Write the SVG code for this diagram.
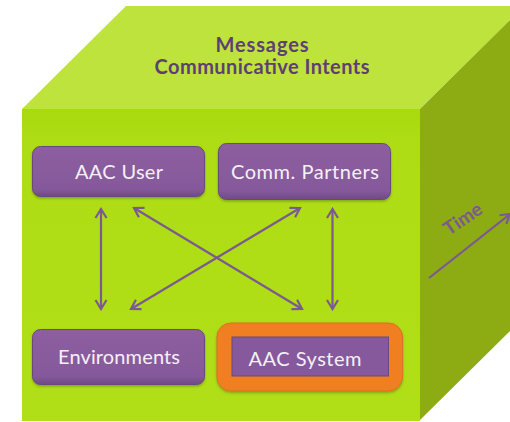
<svg xmlns="http://www.w3.org/2000/svg" width="510" height="422" viewBox="0 0 510 422">
<defs>
<linearGradient id="box" x1="0" y1="0" x2="0" y2="1"><stop offset="0" stop-color="#8d5e9f"/><stop offset="0.85" stop-color="#85599b"/><stop offset="1" stop-color="#6f4a85"/></linearGradient>
<linearGradient id="front" x1="0" y1="0" x2="0" y2="1"><stop offset="0" stop-color="#a8da0f"/><stop offset="0.12" stop-color="#aedd15"/><stop offset="1" stop-color="#b0de17"/></linearGradient>
<marker id="a" viewBox="0 0 14 14" refX="12" refY="7" markerWidth="14" markerHeight="14" markerUnits="userSpaceOnUse" orient="auto-start-reverse"><path d="M3 1.500 L12 7 L3 12.500" fill="none" stroke="#7b5a8f" stroke-width="2.2"/></marker>
<filter id="sh" x="-5%" y="-5%" width="110%" height="115%"><feDropShadow dx="0" dy="1.5" stdDeviation="1.2" flood-color="#4f6b10" flood-opacity="0.5"/></filter>
</defs>
<style>
.n{fill:url(#box);stroke:#6a4a7a;stroke-width:1;filter:url(#sh)}
.t{font-family:"Lato","Liberation Sans",sans-serif;font-size:20px;font-weight:400;fill:#f6f0f7;text-anchor:middle}
.h{font-family:"Lato","Liberation Sans",sans-serif;font-size:20px;font-weight:700;fill:#5e3f73;text-anchor:middle}
.c{stroke:#7b5a8f;stroke-width:2.2;fill:none;marker-start:url(#a);marker-end:url(#a)}
</style>
<g id="cube">
<polygon points="22,109 126,6 510,6 510,20 420,109" fill="#bee33c"/>
<polygon points="420,109 510,20 510,331 420,420" fill="#8dab12"/>
<rect x="22" y="109" width="398" height="312" fill="url(#front)"/>
</g>
<g id="title"><text class="h" x="262" y="52" textLength="93" lengthAdjust="spacing">Messages</text><text class="h" x="262" y="74" textLength="215" lengthAdjust="spacing">Communicative Intents</text></g>
<g id="aac-user"><rect class="n" x="32.500" y="146.500" width="172" height="50" rx="8"/><text class="t" x="119" y="179" textLength="88" lengthAdjust="spacing">AAC User</text></g>
<g id="comm-partners"><rect class="n" x="218.500" y="143.500" width="172" height="56" rx="8"/><text class="t" x="305" y="179" textLength="148" lengthAdjust="spacing">Comm. Partners</text></g>
<g id="environments"><rect class="n" x="32.500" y="329.500" width="172" height="55" rx="8"/><text class="t" x="119" y="364" textLength="122" lengthAdjust="spacing">Environments</text></g>
<g id="aac-system"><rect x="217" y="323" width="185.500" height="68" rx="14" fill="#f07f23" stroke="#e07020" filter="url(#sh)"/><rect x="232" y="337" width="156.500" height="39" fill="#85599b" stroke="#6a4a7a"/><text class="t" x="305" y="366" textLength="113" lengthAdjust="spacing">AAC System</text></g>
<g id="connectors">
<line class="c" x1="101" y1="209" x2="101" y2="309"/>
<line class="c" x1="332.500" y1="209" x2="332.500" y2="309"/>
<line class="c" x1="134" y1="208" x2="302" y2="309"/>
<line class="c" x1="300" y1="208" x2="131" y2="309"/>
<line x1="429" y1="278" x2="510" y2="214" stroke="#7b5a8f" stroke-width="2.2" marker-end="url(#a)" fill="none"/>
</g>
<text id="time" transform="translate(449,236) rotate(-34)" font-family="Lato,'Liberation Sans',sans-serif" font-size="19" font-weight="700" fill="#7b5a8f">Time</text>
</svg>
